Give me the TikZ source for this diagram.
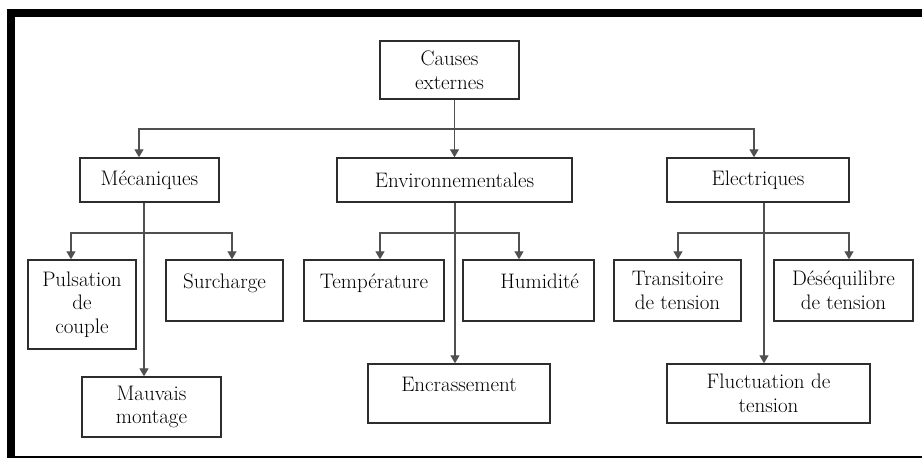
\documentclass[tikz,border=0pt]{standalone}
\usepackage{fontspec}
\usepackage{tikz}
\usetikzlibrary{arrows.meta}
\definecolor{boxline}{RGB}{45,45,45}
\definecolor{wiregrey}{RGB}{80,80,80}
\tikzset{
  cbox/.style={draw=boxline,line width=1.4pt,fill=white,align=center,inner sep=0pt,
               font=\rmfamily\fontsize{21}{23.5}\selectfont,text=black},
  cboxt/.style={cbox,text height=15pt,text depth=20pt},
  wire/.style={draw=wiregrey,line width=1.3pt},
  feed/.style={wire,-{Triangle[width=9pt,length=8pt]}},
}

\begin{document}
\begin{tikzpicture}[x=1pt,y=-1pt]
  \useasboundingbox (0,0) rectangle (922,459);
  % cadre
  \fill (7,9) rectangle (922,17);
  \fill (7,9) rectangle (15,458);
  \fill (7,456) rectangle (922,458);

  \node[cbox,minimum width=139pt,minimum height=58pt] (cause) at (449.5,70) {Causes\\externes};

  \node[cbox,minimum width=139pt,minimum height=44pt] (meca) at (149.5,180) {Mécaniques};
  \node[cbox,minimum width=235pt,minimum height=44pt] (env)  at (454.5,180) {Environnementales};
  \node[cbox,minimum width=182pt,minimum height=44pt] (elec) at (758,180)   {Electriques};

  \node[cbox,minimum width=108pt,minimum height=89pt] (puls)  at (82,304.5)  {Pulsation\\de\\couple};
  \node[cboxt,minimum width=117pt,minimum height=61pt] (surch) at (224.5,290.5) {Surcharge};
  \node[cbox,minimum width=139pt,minimum height=60pt] (mauv)  at (151.5,407)  {Mauvais\\montage};

  \node[cboxt,minimum width=140pt,minimum height=61pt] (temp) at (374,290.5) {Température};
  \node[cboxt,minimum width=131pt,minimum height=61pt,text width=101pt,align=right] (humi) at (528.5,290.5) {Humidité};
  \node[cboxt,minimum width=182pt,minimum height=59pt] (encr) at (459,393.5) {Encrassement};

  \node[cbox,minimum width=127pt,minimum height=61pt] (trans)  at (677.5,290.5) {Transitoire\\de tension};
  \node[cbox,minimum width=139pt,minimum height=61pt] (deseq)  at (843.5,290.5) {Déséquilibre\\de tension};
  \node[cbox,minimum width=203pt,minimum height=59pt] (fluct)  at (768.5,393.5) {Fluctuation de\\tension};

  % premier niveau
  \coordinate (b0) at (454.5,129);
  \draw[wire] (cause.south -| b0) -- (b0);
  \draw[feed] (b0) -- (env.north);
  \draw[feed] (b0) -| ([xshift=-10.5pt]meca.north);
  \draw[feed] (b0) -| ([xshift=-4pt]elec.north);

  % mécaniques
  \coordinate (b1) at (144,233);
  \draw[feed] ([xshift=-5.5pt]meca.south) -- ([xshift=-7.5pt]mauv.north);
  \draw[feed] (b1) -| ([xshift=-11pt]puls.north);
  \draw[feed] (b1) -| ([xshift=7.5pt]surch.north);

  % environnementales
  \coordinate (b2) at (455,233);
  \draw[feed] ([xshift=0.5pt]env.south) -- ([xshift=-4pt]encr.north);
  \draw[feed] (b2) -| ([xshift=6pt]temp.north);
  \draw[feed] (b2) -| ([xshift=-9.5pt]humi.north);

  % électriques
  \coordinate (b3) at (764,233);
  \draw[feed] ([xshift=6pt]elec.south) -- ([xshift=-4.5pt]fluct.north);
  \draw[feed] (b3) -| ([xshift=0.5pt]trans.north);
  \draw[feed] (b3) -| ([xshift=5.5pt]deseq.north);
\end{tikzpicture}
\end{document}
